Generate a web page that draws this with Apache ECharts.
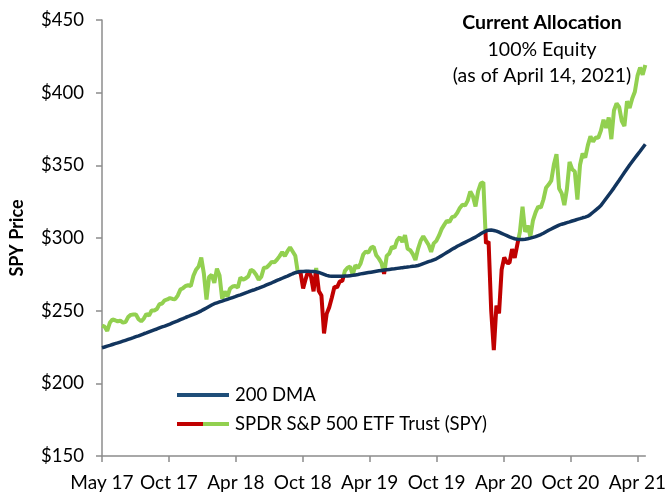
<!DOCTYPE html>
<html>
<head>
<meta charset="utf-8">
<script src="https://cdn.jsdelivr.net/npm/echarts@6/dist/echarts.min.js"></script>
<style>
  html, body { margin: 0; padding: 0; background: #fff; }
  #chart { width: 669px; height: 493px; }
</style>
</head>
<body>
<div id="chart"></div>
<script>
// Weekly observations, early May 2017 -> end of April 2021 (index = week number)
const tickLabels = ['May 17', 'Oct 17', 'Apr 18', 'Oct 18', 'Apr 19', 'Oct 19', 'Apr 20', 'Oct 20', 'Apr 21'];
const yTicks = [150, 200, 250, 300, 350, 400, 450];

// SPY price (weekly)
const spy2017 = [239.7, 239.0, 236.0, 241.7, 244.0, 243.4, 242.6, 243.1, 241.8, 242.1, 245.6, 247.1, 247.3,
  247.4, 244.1, 242.7, 244.6, 247.8, 246.6, 250.1, 250.1, 251.2, 254.4, 254.9, 257.1, 257.7, 258.7, 258.1,
  257.9, 260.4, 264.5, 265.5, 267.0, 267.5, 266.9];
const spy2018 = [274.0, 278.2, 280.4, 286.6, 275.5, 257.6, 273.1, 274.7, 269.1, 278.9, 274.2, 258.1, 263.2,
  259.7, 265.2, 266.6, 267.0, 266.0, 272.9, 271.3, 272.2, 273.6, 278.2, 277.1, 274.7, 271.3, 273.4, 279.6,
  279.7, 281.4, 283.6, 283.2, 285.1, 287.5, 290.3, 287.6, 290.9, 293.5, 290.7, 287.8, 275.9, 276.3, 265.3,
  271.9, 277.8, 273.7, 263.3, 279.3, 263.6, 260.5, 234.3, 247.8];
const spy2019 = [252.4, 259.0, 266.5, 266.0, 270.1, 270.5, 277.4, 279.5, 280.4, 274.5, 281.3, 279.3, 282.5,
  288.6, 290.7, 290.0, 293.4, 294.0, 288.1, 285.8, 282.8, 275.3, 287.7, 289.3, 294.0, 293.0, 298.5, 300.6,
  297.2, 302.0, 292.6, 291.6, 288.9, 284.9, 292.5, 298.1, 301.1, 298.3, 295.4, 290.5, 296.3, 298.0, 301.6,
  306.1, 309.0, 311.8, 311.0, 314.3, 314.9, 317.3, 320.7, 322.9];
const spy2020 = [322.4, 325.7, 332.0, 328.8, 321.7, 332.2, 337.6, 338.3, 296.3, 297.5, 250.0, 222.9, 253.4,
  248.2, 278.2, 286.6, 283.0, 282.8, 292.4, 286.3, 295.4, 304.3, 321.5, 304.2, 308.6, 301.0, 312.2, 317.6,
  321.7, 320.9, 326.5, 334.6, 336.8, 339.5, 350.6, 357.7, 334.1, 330.7, 322.6, 333.8, 352.4, 347.3, 345.8,
  326.5, 350.2, 358.1, 355.3, 363.7, 369.9, 366.3, 369.2, 369.0, 373.9];
const spy2021 = [381.3, 375.7, 382.9, 368.0, 387.7, 392.6, 390.0, 380.4, 377.0, 394.1, 389.5, 396.0, 400.6,
  411.5, 417.3, 412.3, 419.0];

// 200-day moving average (weekly)
const dma2017 = [224.5, 225.0, 225.6, 226.1, 226.7, 227.3, 227.8, 228.4, 229.0, 229.6, 230.2, 230.8,
  231.4, 232.1, 232.7, 233.4, 234.1, 234.7, 235.4, 236.1, 236.8, 237.4, 238.1, 238.8, 239.4,
  240.1, 240.8, 241.6, 242.3, 243.0, 243.8, 244.5, 245.3, 246.0, 246.8];
const dma2018 = [247.5, 248.2, 249.0, 249.9, 250.9, 251.9, 252.9, 253.9, 254.8, 255.4, 256.0, 256.6, 257.2,
  257.8, 258.4, 259.0, 259.6, 260.3, 260.9, 261.6, 262.3, 262.9, 263.6, 264.2, 264.9, 265.5, 266.2,
  266.9, 267.7, 268.5, 269.2, 270.0, 270.8, 271.5, 272.3, 273.1, 273.8, 274.6, 275.4, 276.1,
  276.6, 276.9, 277.0, 277.1, 277.1, 277.0, 276.9, 276.7, 276.3, 275.7, 275.0, 274.3];
const dma2019 = [273.9, 273.7, 273.6, 273.6, 273.6, 273.7, 273.8, 273.9, 274.1, 274.3, 274.6, 274.9, 275.3,
  275.6, 275.9, 276.2, 276.5, 276.8, 277.1, 277.4, 277.7, 278.0,
  278.2, 278.4, 278.6, 278.8, 279.1, 279.3, 279.6, 279.8, 280.1, 280.3, 280.6, 280.8, 281.1,
  281.7, 282.4, 283.0, 283.7, 284.3, 285.0, 285.7, 286.7, 287.8, 288.9, 290.0, 291.1, 292.2, 293.2, 294.3,
  295.2, 296.1];
const dma2020 = [297.0, 297.9, 298.8, 299.7, 300.6, 301.8, 302.9, 303.9, 304.8, 305.4,
  305.5, 305.2, 304.7, 304.0, 303.2, 302.4, 301.6, 300.8, 300.1, 299.5, 299.1,
  299.0, 299.0, 299.2, 299.5, 299.9, 300.4, 301.0, 301.7, 302.4,
  303.3, 304.3, 305.3, 306.2, 307.1, 308.0, 308.9,
  309.5, 310.0, 310.6, 311.1, 311.7, 312.2, 312.8, 313.3, 313.9, 314.4, 315.0,
  316.2, 317.7, 319.2, 320.7, 322.4, 324.8];
const dma2021 = [327.2, 329.6, 332.0, 334.5, 337.1, 339.7, 342.4, 345.0, 347.6, 350.2,
  352.6, 355.0, 357.4, 359.7, 362.1, 364.5];

const spy = [].concat(spy2017, spy2018, spy2019, spy2020, spy2021);
const dma = [].concat(dma2017, dma2018, dma2019, dma2020, dma2021);
const nWeeks = Math.min(spy.length, dma.length);
const TICK_STEP = 25.62; // weeks between labelled ticks

// Split SPY into above-200DMA (green) and below (red) runs, breaking at the crossing.
const green = [], red = [];
for (let i = 0; i < nWeeks; i++) {
  const below = spy[i] < dma[i];
  (below ? red : green).push([i, spy[i]]);
  if (i < nWeeks - 1) {
    const below2 = spy[i + 1] < dma[i + 1];
    if (below !== below2) {
      const d0 = spy[i] - dma[i], d1 = spy[i + 1] - dma[i + 1];
      const t = d0 / (d0 - d1);
      const pt = [i + t, spy[i] + t * (spy[i + 1] - spy[i])];
      const cur = below ? red : green, nxt = below2 ? red : green;
      cur.push(pt);
      cur.push([i + t, '-']);
      nxt.push(pt);
    }
  }
}
const dmaData = dma.slice(0, nWeeks).map((v, i) => [i, v]);

const FONT = 'Lato';
const chart = echarts.init(document.getElementById('chart'), null, { renderer: 'canvas' });

const swatchSvg = '<svg xmlns="http://www.w3.org/2000/svg" width="52" height="4"><rect x="0" y="0" width="26" height="4" fill="#c00000"/><rect x="26" y="0" width="26" height="4" fill="#92d050"/></svg>';

chart.setOption({
  animation: false,
  backgroundColor: '#ffffff',
  textStyle: { fontFamily: FONT },
  title: {
    text: 'Current Allocation',
    subtext: '100% Equity\n(as of April 14, 2021)',
    left: 537,
    top: 8,
    textAlign: 'center',
    itemGap: 4,
    textStyle: { fontFamily: FONT, fontSize: 19.5, fontWeight: 'bold', color: '#000' },
    subtextStyle: { fontFamily: FONT, fontSize: 19.5, color: '#000', lineHeight: 26 }
  },
  legend: {
    orient: 'vertical',
    left: 177,
    top: 384,
    padding: 0,
    itemWidth: 52,
    itemHeight: 4,
    itemGap: 7,
    textStyle: { fontFamily: FONT, fontSize: 18.5, color: '#000', lineHeight: 22, padding: [0, 0, 0, 1] },
    data: [
      { name: '200 DMA', icon: 'rect', itemStyle: { color: '#1f4e79' } },
      { name: 'SPDR S&P 500 ETF Trust (SPY)', icon: 'image://data:image/svg+xml;charset=utf-8,' + encodeURIComponent(swatchSvg) }
    ]
  },
  grid: { left: 101, right: 20, top: 20, bottom: 37, containLabel: false },
  xAxis: {
    type: 'value',
    min: 0,
    max: nWeeks - 1,
    splitLine: { show: false },
    axisLine: { show: true, lineStyle: { color: '#8c8c8c', width: 1.5 } },
    axisTick: { show: true, length: 6, lineStyle: { color: '#8c8c8c', width: 1.5 },
      customValues: tickLabels.map((_, k) => k * TICK_STEP) },
    axisLabel: {
      fontFamily: FONT, fontSize: 19, color: '#000', margin: 17,
      customValues: tickLabels.map((_, k) => k * TICK_STEP),
      formatter: (v) => tickLabels[Math.round(v / TICK_STEP)] || ''
    }
  },
  yAxis: {
    type: 'value',
    min: yTicks[0],
    max: yTicks[yTicks.length - 1],
    interval: 50,
    name: 'SPY Price',
    nameLocation: 'middle',
    nameRotate: 90,
    nameGap: 76,
    nameTextStyle: { fontFamily: FONT, fontSize: 18, fontWeight: 'bold', color: '#000' },
    splitLine: { show: false },
    axisLine: { show: true, lineStyle: { color: '#8c8c8c', width: 1.5 } },
    axisTick: { show: true, length: 6, lineStyle: { color: '#8c8c8c', width: 1.5 } },
    axisLabel: { fontFamily: FONT, fontSize: 18.5, color: '#000', margin: 18, formatter: (v) => '$' + v }
  },
  series: [
    {
      name: 'SPDR S&P 500 ETF Trust (SPY)',
      type: 'line',
      data: green,
      showSymbol: false,
      connectNulls: false,
      lineStyle: { color: '#92d050', width: 4 },
      itemStyle: { color: '#92d050' },
      z: 2
    },
    {
      name: 'SPY below 200 DMA',
      type: 'line',
      data: red,
      showSymbol: false,
      connectNulls: false,
      lineStyle: { color: '#c00000', width: 4 },
      itemStyle: { color: '#c00000' },
      z: 3
    },
    {
      name: '200 DMA',
      type: 'line',
      data: dmaData,
      showSymbol: false,
      lineStyle: { color: '#12355e', width: 3.5 },
      itemStyle: { color: '#1f4e79' },
      z: 4
    }
  ]
});
</script>
</body>
</html>
